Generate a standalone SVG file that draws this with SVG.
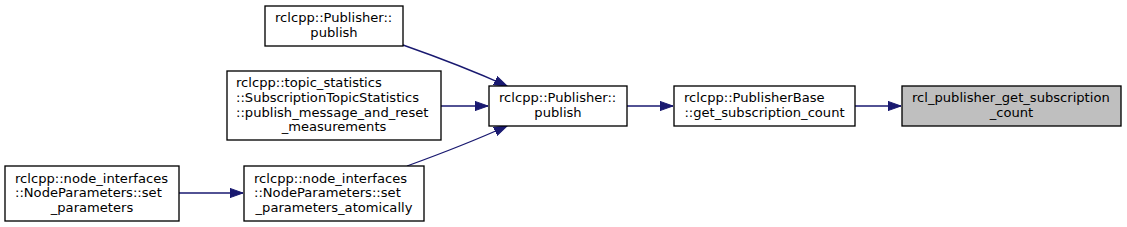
<svg xmlns="http://www.w3.org/2000/svg" width="1127" height="227" viewBox="0 0 1127 227">
<style>
.n rect{fill:#ffffff;stroke:#000000;stroke-width:1.33}
.n.root rect{fill:#bfbfbf}
text{font-family:"DejaVu Sans","Liberation Sans",sans-serif;font-size:13.1px;fill:#000000}
.l{text-anchor:start}
.c{text-anchor:middle}
.e{fill:none;stroke:#191970;stroke-width:1.33}
</style>
<defs>
<marker id="ah" markerUnits="userSpaceOnUse" markerWidth="14" markerHeight="10" refX="13" refY="5" orient="auto">
<path d="M0,0.4 L13,5 L0,9.6 Z" fill="#191970" stroke="#191970" stroke-width="1"/>
</marker>
</defs>
<g id="edges">
<path class="e" d="M855,106 L901,106" marker-end="url(#ah)"/>
<path class="e" d="M627,106 L673,106" marker-end="url(#ah)"/>
<path class="e" d="M441,106 L488,106" marker-end="url(#ah)"/>
<path class="e" d="M403,45 C440,58 476,72 507,86" marker-end="url(#ah)"/>
<path class="e" d="M407,166 C440,154 476,140 507,126" marker-end="url(#ah)"/>
<path class="e" d="M179,193 L243,193" marker-end="url(#ah)"/>
</g>
<g id="node1" class="n root">
<rect x="902" y="86" width="219" height="40"/>
<text class="l" x="912" y="102.4">rcl_publisher_get_subscription</text>
<text class="c" x="1011.5" y="117">_count</text>
</g>
<g id="node2" class="n">
<rect x="674" y="86" width="181" height="40"/>
<text class="l" x="684" y="102.4">rclcpp::PublisherBase</text>
<text class="c" x="764.5" y="117">::get_subscription_count</text>
</g>
<g id="node3" class="n">
<rect x="489" y="86" width="138" height="40"/>
<text class="l" x="499" y="102.4">rclcpp::Publisher::</text>
<text class="c" x="558" y="117">publish</text>
</g>
<g id="node4" class="n">
<rect x="265" y="6" width="138" height="40"/>
<text class="l" x="275" y="22.4">rclcpp::Publisher::</text>
<text class="c" x="334" y="37">publish</text>
</g>
<g id="node5" class="n">
<rect x="227" y="71" width="214" height="69"/>
<text class="l" x="236" y="87.2">rclcpp::topic_statistics</text>
<text class="l" x="236" y="101.9">::SubscriptionTopicStatistics</text>
<text class="l" x="236" y="116.5">::publish_message_and_reset</text>
<text class="c" x="334" y="131.2">_measurements</text>
</g>
<g id="node6" class="n">
<rect x="244" y="166" width="180" height="55"/>
<text class="l" x="254" y="182.5">rclcpp::node_interfaces</text>
<text class="l" x="254" y="197.2">::NodeParameters::set</text>
<text class="c" x="334" y="211.9">_parameters_atomically</text>
</g>
<g id="node7" class="n">
<rect x="5" y="166" width="174" height="55"/>
<text class="l" x="15" y="182.5">rclcpp::node_interfaces</text>
<text class="l" x="15" y="197.2">::NodeParameters::set</text>
<text class="c" x="92" y="211.9">_parameters</text>
</g>
</svg>
